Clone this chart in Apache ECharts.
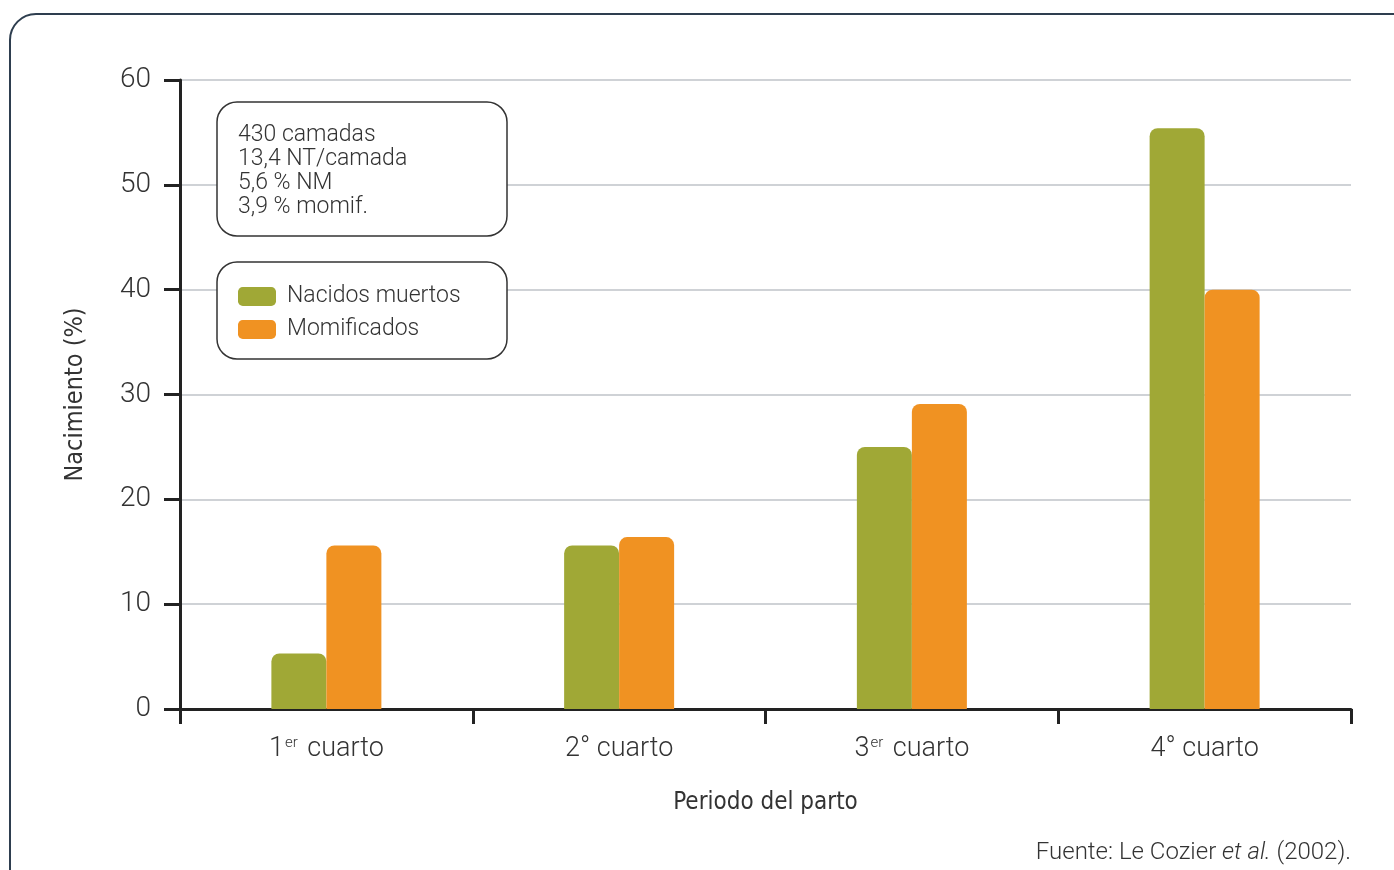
<!DOCTYPE html>
<html>
<head>
<meta charset="utf-8">
<script src="https://cdn.jsdelivr.net/npm/echarts@6/dist/echarts.min.js"></script>
<style>
  html, body { margin: 0; padding: 0; background: #fff; }
  #chart { width: 1394px; height: 870px; }
</style>
</head>
<body>
<div id="chart"></div>
<script>
var categories = ['1|er| cuarto', '2° cuarto', '3|er| cuarto', '4° cuarto'];
var nacidosMuertos = [5.3, 15.6, 25.0, 55.4];
var momificados = [15.6, 16.4, 29.1, 40.0];
var yTicks = [0, 10, 20, 30, 40, 50, 60];
var infoLines = ['430 camadas', '13,4 NT/camada', '5,6 % NM', '3,9 % momif.'];

var txt = '#333';
var font = 'Roboto';
var condensed = 'DejaVu Sans Condensed, Roboto, sans-serif';

try {
  var chart = echarts.init(document.getElementById('chart'));

  var option = {
    animation: false,
    backgroundColor: '#fff',
    textStyle: { fontFamily: font },
    grid: { left: 180, right: 43, top: 80, bottom: 161, containLabel: false },
    legend: {
      orient: 'vertical',
      left: 238,
      top: 285,
      padding: 0,
      itemWidth: 38,
      itemHeight: 19,
      itemGap: 10,
      icon: 'roundRect',
      textStyle: { fontSize: 23, lineHeight: 20, height: 20, color: txt, fontWeight: 300, fontFamily: font, padding: [0, 0, 0, 6] },
      data: ['Nacidos muertos', 'Momificados']
    },
    xAxis: {
      type: 'category',
      data: categories,
      name: 'Periodo del parto',
      nameLocation: 'middle',
      nameGap: 82,
      nameTextStyle: { fontSize: 24, color: txt, fontFamily: condensed },
      axisLine: { lineStyle: { color: '#222', width: 3 } },
      axisTick: { show: true, length: 15, lineStyle: { color: '#222', width: 3 } },
      axisLabel: {
        margin: 27,
        formatter: function (v) {
          var p = v.split('|');
          if (p.length === 3) return '{a|' + p[0] + '}{s|' + p[1] + '}{a|' + p[2] + '}';
          return '{a|' + v + '}';
        },
        rich: {
          a: { fontSize: 27, color: txt, fontWeight: 300, fontFamily: font },
          s: { fontSize: 15, color: txt, fontWeight: 300, fontFamily: font, verticalAlign: 'top', padding: [0, 3, 12, 1] }
        }
      }
    },
    yAxis: {
      type: 'value',
      min: 0,
      max: 60,
      interval: 10,
      name: 'Nacimiento (%)',
      nameLocation: 'middle',
      nameGap: 92,
      nameRotate: 90,
      nameTextStyle: { fontSize: 25, color: txt, fontFamily: condensed },
      axisLine: { show: true, lineStyle: { color: '#222', width: 3 } },
      axisTick: { show: true, inside: false, length: 16, lineStyle: { color: '#222', width: 3 } },
      axisLabel: {
        margin: 29,
        fontSize: 28,
        color: txt,
        fontWeight: 300,
        formatter: function (v) { return yTicks.indexOf(v) >= 0 ? String(v) : ''; }
      },
      splitLine: { lineStyle: { color: '#cfd2d6', width: 2 } }
    },
    series: [
      {
        name: 'Nacidos muertos',
        type: 'bar',
        data: nacidosMuertos,
        barWidth: 55,
        barGap: '0%',
        itemStyle: { color: '#a0a836', borderRadius: [8, 8, 0, 0] }
      },
      {
        name: 'Momificados',
        type: 'bar',
        data: momificados,
        barWidth: 55,
        barGap: '0%',
        itemStyle: { color: '#f09222', borderRadius: [8, 8, 0, 0] }
      }
    ],
    graphic: [
      {
        type: 'rect',
        silent: true,
        z: 1,
        shape: { x: 10, y: 14, width: 1420, height: 900, r: 26 },
        style: { fill: 'none', stroke: '#2e3e4f', lineWidth: 2 }
      },
      {
        type: 'rect',
        silent: true,
        z: 1,
        shape: { x: 217, y: 102, width: 290, height: 134, r: 20 },
        style: { fill: '#fff', stroke: '#333', lineWidth: 1.5 }
      },
      {
        type: 'text',
        silent: true,
        z: 3,
        left: 238,
        top: 123,
        style: {
          text: infoLines.join('\n'),
          fontSize: 23,
          lineHeight: 24,
          fill: txt,
          fontWeight: 300,
          fontFamily: font
        }
      },
      {
        type: 'rect',
        silent: true,
        z: 1,
        shape: { x: 217, y: 262, width: 290, height: 97, r: 20 },
        style: { fill: '#fff', stroke: '#333', lineWidth: 1.5 }
      },
      {
        type: 'text',
        silent: true,
        z: 3,
        right: 43,
        top: 841,
        style: {
          text: '{n|Fuente: Le Cozier }{i|et al.}{n| (2002).}',
          rich: {
            n: { fontSize: 24, fill: txt, fontWeight: 300, fontFamily: font },
            i: { fontSize: 24, fill: txt, fontWeight: 300, fontStyle: 'italic', fontFamily: font }
          }
        }
      }
    ]
  };

  chart.setOption(option);
} catch (err) {}
</script>
</body>
</html>
